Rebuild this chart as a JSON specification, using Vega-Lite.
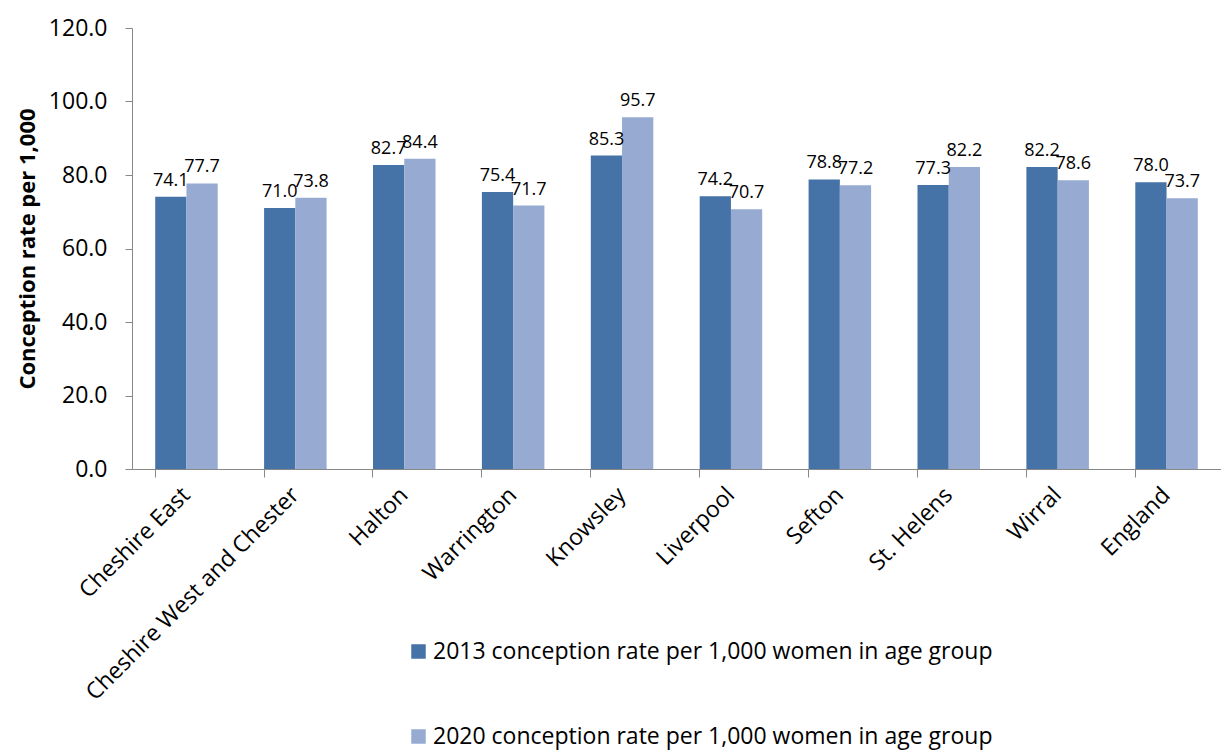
{
  "$schema": "https://vega.github.io/schema/vega-lite/v6.json",
  "autosize": "none",
  "width": 1089,
  "height": 441,
  "padding": {"left": 132, "top": 28, "right": 0, "bottom": 283},
  "background": "white",
  "config": {
    "font": "Open Sans",
    "view": {"stroke": null},
    "axis": {"domainColor": "#888888", "tickColor": "#888888", "labelColor": "#000000", "titleColor": "#000000", "grid": false, "labelFont": "Open Sans", "titleFont": "Open Sans"},
    "legend": {"labelFont": "Open Sans"}
  },
  "data": {
    "values": [
      {"area": "Cheshire East", "series": "2013 conception rate per 1,000 women in age group", "rate": 74.1},
      {"area": "Cheshire East", "series": "2020 conception rate per 1,000 women in age group", "rate": 77.7},
      {"area": "Cheshire West and Chester", "series": "2013 conception rate per 1,000 women in age group", "rate": 71.0},
      {"area": "Cheshire West and Chester", "series": "2020 conception rate per 1,000 women in age group", "rate": 73.8},
      {"area": "Halton", "series": "2013 conception rate per 1,000 women in age group", "rate": 82.7},
      {"area": "Halton", "series": "2020 conception rate per 1,000 women in age group", "rate": 84.4},
      {"area": "Warrington", "series": "2013 conception rate per 1,000 women in age group", "rate": 75.4},
      {"area": "Warrington", "series": "2020 conception rate per 1,000 women in age group", "rate": 71.7},
      {"area": "Knowsley", "series": "2013 conception rate per 1,000 women in age group", "rate": 85.3},
      {"area": "Knowsley", "series": "2020 conception rate per 1,000 women in age group", "rate": 95.7},
      {"area": "Liverpool", "series": "2013 conception rate per 1,000 women in age group", "rate": 74.2},
      {"area": "Liverpool", "series": "2020 conception rate per 1,000 women in age group", "rate": 70.7},
      {"area": "Sefton", "series": "2013 conception rate per 1,000 women in age group", "rate": 78.8},
      {"area": "Sefton", "series": "2020 conception rate per 1,000 women in age group", "rate": 77.2},
      {"area": "St. Helens", "series": "2013 conception rate per 1,000 women in age group", "rate": 77.3},
      {"area": "St. Helens", "series": "2020 conception rate per 1,000 women in age group", "rate": 82.2},
      {"area": "Wirral", "series": "2013 conception rate per 1,000 women in age group", "rate": 82.2},
      {"area": "Wirral", "series": "2020 conception rate per 1,000 women in age group", "rate": 78.6},
      {"area": "England", "series": "2013 conception rate per 1,000 women in age group", "rate": 78.0},
      {"area": "England", "series": "2020 conception rate per 1,000 women in age group", "rate": 73.7}
    ]
  },
  "encoding": {
    "x": {
      "field": "area", "type": "nominal", "sort": null,
      "scale": {"paddingInner": 0.426, "paddingOuter": 0.213},
      "axis": {"title": null, "labelAngle": -45, "labelAlign": "right", "labelBaseline": "middle", "labelFontSize": 23, "labelPadding": 14, "labelDx": 6, "tickSize": 8, "bandPosition": 0, "labelBound": false, "labelOverlap": false, "labelLimit": 400}
    },
    "xOffset": {"field": "series", "type": "nominal", "scale": {"paddingInner": 0, "paddingOuter": 0}},
    "y": {
      "field": "rate", "type": "quantitative",
      "scale": {"domain": [0, 120], "nice": false},
      "axis": {"title": "Conception rate per 1,000", "titleFontSize": 22, "titleFontWeight": "bold", "titlePadding": 9, "values": [0, 20, 40, 60, 80, 100, 120], "format": ".1f", "labelFontSize": 23, "labelPadding": 18, "tickSize": 7}
    }
  },
  "layer": [
    {
      "mark": {"type": "bar"},
      "encoding": {
        "color": {
          "field": "series", "type": "nominal",
          "scale": {"range": ["#4572A7", "#96AAD2"]},
          "legend": {"title": null, "orient": "none", "legendX": 275, "legendY": 612, "direction": "vertical", "symbolType": "square", "symbolSize": 210, "symbolStrokeWidth": 0, "labelFontSize": 23, "labelLimit": 800, "rowPadding": 61, "labelOffset": 3}
        }
      }
    },
    {
      "mark": {"type": "text", "baseline": "bottom", "dy": -7, "fontSize": 18, "color": "#000000"},
      "encoding": {
        "text": {"field": "rate", "type": "quantitative", "format": ".1f"}
      }
    }
  ]
}
